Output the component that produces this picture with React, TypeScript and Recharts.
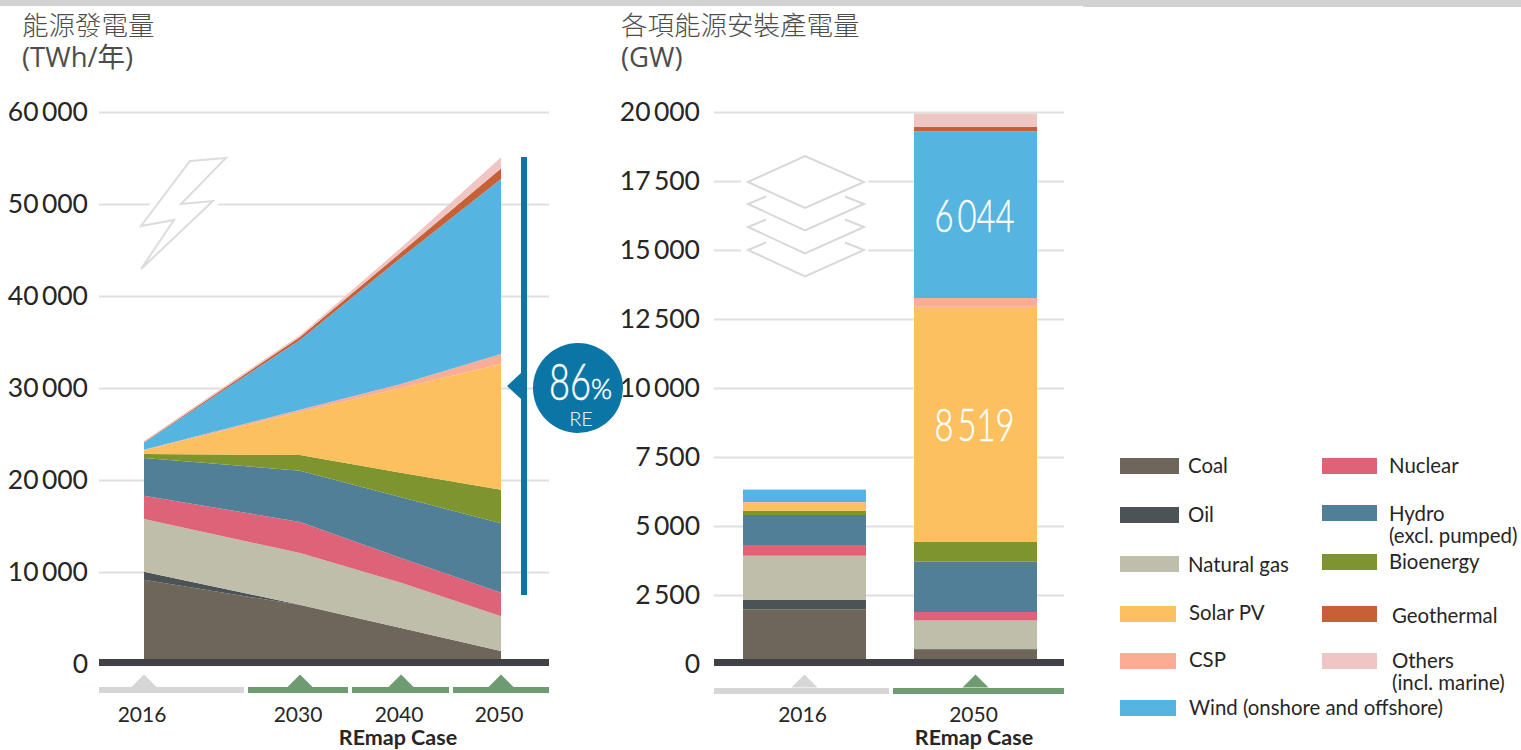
/**
 * Power generation (area) and installed capacity (stacked bars) by source, REmap Case.
 */

import { Area, AreaChart, Bar, BarChart, CartesianGrid, LabelList, XAxis, YAxis } from "recharts";

const LATO = "Lato, sans-serif";
const INK = "#262626";
const GRID = "#dfdfdf";
const AXIS_DARK = "#404047";
const GREY_MARK = "#d6d6d6";
const GREEN_MARK = "#6f9b70";
const RE_BLUE = "#0b76a6";

// generation, TWh/year
const genYears = [2016, 2030, 2040, 2050];
const genCoal = [9200, 6470, 3960, 1470];
const genOil = [890, 30, 20, 10];
const genGas = [5725, 5620, 4910, 3760];
const genNuclear = [2535, 3370, 2690, 2560];
const genHydro = [4100, 5580, 6600, 7550];
const genBio = [430, 1700, 2670, 3650];
const genSolar = [420, 4670, 9200, 13660];
const genCsp = [50, 260, 450, 1090];
const genWind = [750, 7570, 13700, 19020];
const genGeo = [50, 330, 600, 1130];
const genOthers = [150, 200, 500, 1230];

// capacity, GW
const capYears = ["2016", "2050"];
const capCoal = [2000, 550];
const capOil = [340, 10];
const capGas = [1600, 1030];
const capNuclear = [390, 310];
const capHydro = [1090, 1825];
const capBio = [155, 715];
const capSolar = [290, 8519];
const capCsp = [25, 320];
const capWind = [430, 6044];
const capGeo = [15, 150];
const capOthers = [15, 490];

const genTicks = [0, 10000, 20000, 30000, 40000, 50000, 60000];
const capTicks = [0, 2500, 5000, 7500, 10000, 12500, 15000, 17500, 20000];

const sources = [
  { key: "coal", color: "#6e665b" },
  { key: "oil", color: "#4b5357" },
  { key: "gas", color: "#bfbeaa" },
  { key: "nuclear", color: "#de6379" },
  { key: "hydro", color: "#517f97" },
  { key: "bio", color: "#7e942f" },
  { key: "solar", color: "#fdc05e" },
  { key: "csp", color: "#f8ad94" },
  { key: "wind", color: "#56b5e0" },
  { key: "geo", color: "#c75f37" },
  { key: "others", color: "#f0c6c5" },
];

const genData = genYears.map((year, i) => ({
  year,
  coal: genCoal[i],
  oil: genOil[i],
  gas: genGas[i],
  nuclear: genNuclear[i],
  hydro: genHydro[i],
  bio: genBio[i],
  solar: genSolar[i],
  csp: genCsp[i],
  wind: genWind[i],
  geo: genGeo[i],
  others: genOthers[i],
}));

const capData = capYears.map((year, i) => ({
  year,
  coal: capCoal[i],
  oil: capOil[i],
  gas: capGas[i],
  nuclear: capNuclear[i],
  hydro: capHydro[i],
  bio: capBio[i],
  solar: capSolar[i],
  csp: capCsp[i],
  wind: capWind[i],
  geo: capGeo[i],
  others: capOthers[i],
}));

// the original time axis is not even: 14 years get about 1.5x the room of 10
const YEAR_STOPS = [0, 0.437, 0.72, 1];

function makeYearScale(domain: number[] = [2016, 2050], range: number[] = [0, 1]) {
  const scale: any = (year: number) => {
    let i = genYears.findIndex((y) => y === year);
    if (i < 0) {
      const seg = Math.max(0, genYears.findIndex((y) => y > year) - 1);
      const t = (year - genYears[seg]) / (genYears[seg + 1] - genYears[seg]);
      const f = YEAR_STOPS[seg] + t * (YEAR_STOPS[seg + 1] - YEAR_STOPS[seg]);
      return range[0] + f * (range[1] - range[0]);
    }
    return range[0] + YEAR_STOPS[i] * (range[1] - range[0]);
  };
  scale.domain = (d?: number[]) => (d ? makeYearScale(d, range) : domain);
  scale.range = (r?: number[]) => (r ? makeYearScale(domain, r) : range);
  scale.copy = () => makeYearScale(domain, range);
  scale.ticks = () => genYears;
  return scale;
}

const formatTick = (v: number) => String(v).replace(/\B(?=(\d{3})+$)/g, "\u2009");

function YearTick({ x, y, payload }: any) {
  const color = String(payload.value) === "2016" ? GREY_MARK : GREEN_MARK;
  return (
    <g>
      <path d={`M${x - 13} ${y + 23}L${x} ${y + 10}L${x + 13} ${y + 23}Z`} fill={color} />
      <text x={x - 2} y={y + 57} textAnchor="middle" fontFamily={LATO} fontSize={21} fill={INK}>
        {payload.value}
      </text>
    </g>
  );
}

function BarValue({ x, y, width, height, value, index }: any) {
  if (index !== 1) return null;
  return (
    <text
      x={x + width / 2 - 1}
      y={y + height / 2 + 17}
      textAnchor="middle"
      fontFamily={LATO}
      fontWeight={300}
      fontSize={46}
      fill="#fff"
      stroke="#fff"
      strokeWidth={0.5}
      textLength={80}
      lengthAdjust="spacingAndGlyphs"
    >
      {formatTick(value)}
    </text>
  );
}

const yTickStyle = { fill: INK, fontFamily: LATO, fontSize: 26.5 };

function GenerationChart() {
  return (
    <AreaChart
      width={560}
      height={750}
      data={genData}
      margin={{ top: 112.5, right: 11, bottom: 0, left: 0 }}
      style={{ position: "absolute", left: 0, top: 0 }}
    >
      <CartesianGrid vertical={false} stroke={GRID} strokeWidth={2} />
      <XAxis
        dataKey="year"
        type="number"
        domain={[2016, 2050]}
        scale={makeYearScale()}
        ticks={genYears}
        padding={{ left: 45, right: 48 }}
        height={85.5}
        axisLine={false}
        tickLine={false}
        tickSize={0}
        tickMargin={0}
        interval={0}
        tick={<YearTick />}
      />
      <YAxis
        width={99}
        domain={[0, 60000]}
        ticks={genTicks}
        interval={0}
        axisLine={false}
        tickLine={false}
        tickSize={0}
        tickMargin={11}
        dy={-1}
        tick={yTickStyle}
        tickFormatter={formatTick}
      />
      {sources.map((s) => (
        <Area
          key={s.key}
          type="linear"
          dataKey={s.key}
          stackId="gen"
          stroke="none"
          fill={s.color}
          fillOpacity={1}
          dot={false}
          activeDot={false}
          isAnimationActive={false}
        />
      ))}
    </AreaChart>
  );
}

function CapacityChart() {
  return (
    <BarChart
      width={460}
      height={750}
      data={capData}
      barSize={123}
      margin={{ top: 112.5, right: 6, bottom: 0, left: 0 }}
      style={{ position: "absolute", left: 610, top: 0 }}
    >
      <CartesianGrid vertical={false} stroke={GRID} strokeWidth={2} />
      <XAxis
        dataKey="year"
        padding={{ left: 5, right: 3 }}
        height={85.5}
        axisLine={false}
        tickLine={false}
        tickSize={0}
        tickMargin={0}
        interval={0}
        tick={<YearTick />}
      />
      <YAxis
        width={104}
        domain={[0, 20000]}
        ticks={capTicks}
        interval={0}
        axisLine={false}
        tickLine={false}
        tickSize={0}
        tickMargin={14}
        dy={-1}
        tick={yTickStyle}
        tickFormatter={formatTick}
      />
      {sources.map((s) => (
        <Bar key={s.key} dataKey={s.key} stackId="cap" fill={s.color} isAnimationActive={false}>
          {(s.key === "solar" || s.key === "wind") && <LabelList dataKey={s.key} content={<BarValue />} />}
        </Bar>
      ))}
    </BarChart>
  );
}

const legendItems = [
  { lines: ["Coal"], key: "coal", x: 1120, y: 458, w: 59, tx: 1188, ty: 473 },
  { lines: ["Oil"], key: "oil", x: 1120, y: 507, w: 59, tx: 1188, ty: 522 },
  { lines: ["Natural gas"], key: "gas", x: 1120, y: 556, w: 59, tx: 1188, ty: 572 },
  { lines: ["Solar PV"], key: "solar", x: 1120, y: 606, w: 56, tx: 1189, ty: 620 },
  { lines: ["CSP"], key: "csp", x: 1120, y: 653, w: 56, tx: 1189, ty: 667 },
  { lines: ["Wind (onshore and offshore)"], key: "wind", x: 1120, y: 700, w: 56, tx: 1189, ty: 715 },
  { lines: ["Nuclear"], key: "nuclear", x: 1322, y: 458, w: 55, tx: 1389, ty: 473 },
  { lines: ["Hydro", "(excl. pumped)"], key: "hydro", x: 1322, y: 505, w: 55, tx: 1389, ty: 521 },
  { lines: ["Bioenergy"], key: "bio", x: 1322, y: 554, w: 55, tx: 1389, ty: 569 },
  { lines: ["Geothermal"], key: "geo", x: 1322, y: 606, w: 55, tx: 1392, ty: 623 },
  { lines: ["Others", "(incl. marine)"], key: "others", x: 1322, y: 653, w: 55, tx: 1392, ty: 668 },
];

const colorOf = (key: string) => sources.find((s) => s.key === key)?.color;

const BOLT = "M190 161L226 158L181 204L213 201L141 269L174 220L141 226Z";
const DIAMOND = "M748 182L805 156L864 182L805 208Z";
const layerPath = (c: number) =>
  `M766 ${c - 7.5}L748 ${c}L805 ${c + 26.5}L864 ${c}L845 ${c - 7.5}`;
const layerCentres = [204, 227, 250];

function Decorations() {
  return (
    <svg
      width={1521}
      height={750}
      style={{ position: "absolute", left: 0, top: 0, pointerEvents: "none" }}
    >
      <rect x={0} y={0} width={1521} height={6} fill="#d2d2d2" />
      <rect x={1083} y={6} width={438} height={1} fill="#d2d2d2" />

      {/* wiped gridlines behind the icons */}
      <path d={BOLT} fill="#fff" stroke="#fff" strokeWidth={12} />
      <path d={BOLT} fill="#fff" stroke="#dcdcdc" strokeWidth={2} />
      <rect x={741} y={175} width={127} height={12} fill="#fff" />
      <rect x={741} y={244} width={127} height={12} fill="#fff" />
      <path d={DIAMOND} fill="#fff" stroke="#d8d8d8" strokeWidth={2} />
      {layerCentres.map((c) => (
        <path key={c} d={layerPath(c)} fill="none" stroke="#d8d8d8" strokeWidth={2} />
      ))}

      {/* baselines and period bands */}
      <rect x={99} y={659} width={450} height={7} fill={AXIS_DARK} />
      <rect x={714} y={659} width={350} height={7} fill={AXIS_DARK} />
      <rect x={99} y={687} width={145} height={6} fill={GREY_MARK} />
      <rect x={248} y={687} width={100} height={6} fill={GREEN_MARK} />
      <rect x={352} y={687} width={97} height={6} fill={GREEN_MARK} />
      <rect x={453} y={687} width={96} height={6} fill={GREEN_MARK} />
      <rect x={714} y={688} width={175} height={6} fill={GREY_MARK} />
      <rect x={893} y={688} width={171} height={6} fill={GREEN_MARK} />

      <text x={398} y={745} textAnchor="middle" fontFamily={LATO} fontWeight={700} fontSize={21.5} fill={INK}>
        REmap Case
      </text>
      <text x={974} y={745} textAnchor="middle" fontFamily={LATO} fontWeight={700} fontSize={21.5} fill={INK}>
        REmap Case
      </text>

      {/* 86% renewable marker */}
      <rect x={521} y={157} width={6} height={438} fill={RE_BLUE} />
      <path d="M507 386L521 373L521 399Z" fill={RE_BLUE} />
      <circle cx={578} cy={388} r={45} fill={RE_BLUE} />
      <text x={549} y={400} fontFamily={LATO} fontWeight={300} fill="#fff" stroke="#fff" strokeWidth={0.5}>
        <tspan fontSize={52} textLength={42} lengthAdjust="spacingAndGlyphs">86</tspan>
        <tspan fontSize={27} textLength={21} lengthAdjust="spacingAndGlyphs" dy={-1}>%</tspan>
      </text>
      <text x={581} y={426} textAnchor="middle" fontFamily={LATO} fontWeight={300} fontSize={20} fill="#fff">
        RE
      </text>

      {/* titles */}
      <text x={22} y={35} fontFamily="'Noto Sans CJK TC'" fontWeight={300} fontSize={26.5} fill="#4d4d4d">
        能源發電量
      </text>
      <text x={22} y={67} fontFamily="'Open Sans', 'Noto Sans CJK TC'" fontSize={27.5} fill="#4d4d4d">
        (TWh/年)
      </text>
      <text x={621} y={35} fontFamily="'Noto Sans CJK TC'" fontWeight={300} fontSize={26.5} fill="#4d4d4d">
        各項能源安裝產電量
      </text>
      <text x={621} y={67} fontFamily="'Open Sans', 'Noto Sans CJK TC'" fontSize={27.5} fill="#4d4d4d">
        (GW)
      </text>

      {/* legend */}
      {legendItems.map((item) => (
        <g key={item.key}>
          <rect x={item.x} y={item.y} width={item.w} height={16} fill={colorOf(item.key)} />
          {item.lines.map((line, i) => (
            <text key={line} x={item.tx} y={item.ty + i * 22} fontFamily={LATO} fontSize={20.4} fill={INK}>
              {line}
            </text>
          ))}
        </g>
      ))}
    </svg>
  );
}

export default function App() {
  return (
    <div
      style={{
        position: "absolute",
        left: 0,
        top: 0,
        width: 1521,
        height: 750,
        overflow: "hidden",
        background: "#fff",
      }}
    >
      <GenerationChart />
      <CapacityChart />
      <Decorations />
    </div>
  );
}
